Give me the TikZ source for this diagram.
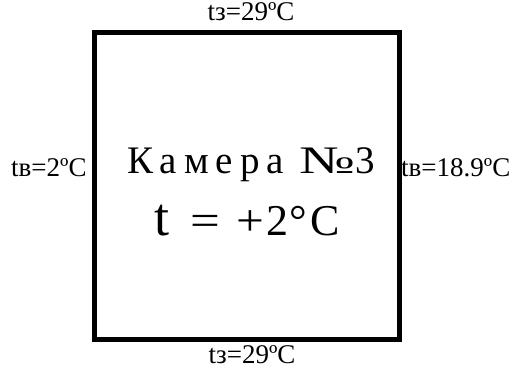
\documentclass[tikz,border=0pt]{standalone}
\usepackage{fontspec}
\setmainfont{Liberation Serif}
\newfontfamily\spaced[LetterSpace=18]{Liberation Serif}
\begin{document}
\begin{tikzpicture}[x=1pt,y=-1pt]
\tikzset{
  lbl/.style={inner sep=0pt, font=\fontsize{27}{27}\selectfont},
  big/.style={inner sep=0pt, font=\fontsize{39}{39}\selectfont},
  big2/.style={inner sep=0pt, font=\fontsize{44}{44}\selectfont},
}
\useasboundingbox (0,0) rectangle (514,371);
\node[draw, line width=4.5pt, minimum width=305pt, minimum height=307pt, inner sep=0pt] (cam) at (247,186) {};
\node[big, anchor=base west] (t1) at (127,174) {{\spaced Камера}\hspace{16pt}\scalebox{1.5}[1]{№}\hspace{0pt}3};
\node[big2, anchor=base west] (t2) at (154,236) {{\fontsize{54}{54}\selectfont t}\hspace{21pt}\scalebox{1.2}[1]{=}\hspace{17pt}\scalebox{1.12}[1]{+}\hspace{2pt}2\hspace{1pt}°\hspace{3pt}C};
\node[lbl, anchor=base] (top) at (251,21) {tз=29ºC};
\node[lbl, anchor=base] (bot) at (252,363) {tз=29ºC};
\node[lbl, anchor=base west] (lft) at (11,177) {tв=2ºC};
\node[lbl, anchor=base west] (rgt) at (401,177) {tв=18.9ºC};
\end{tikzpicture}
\end{document}
